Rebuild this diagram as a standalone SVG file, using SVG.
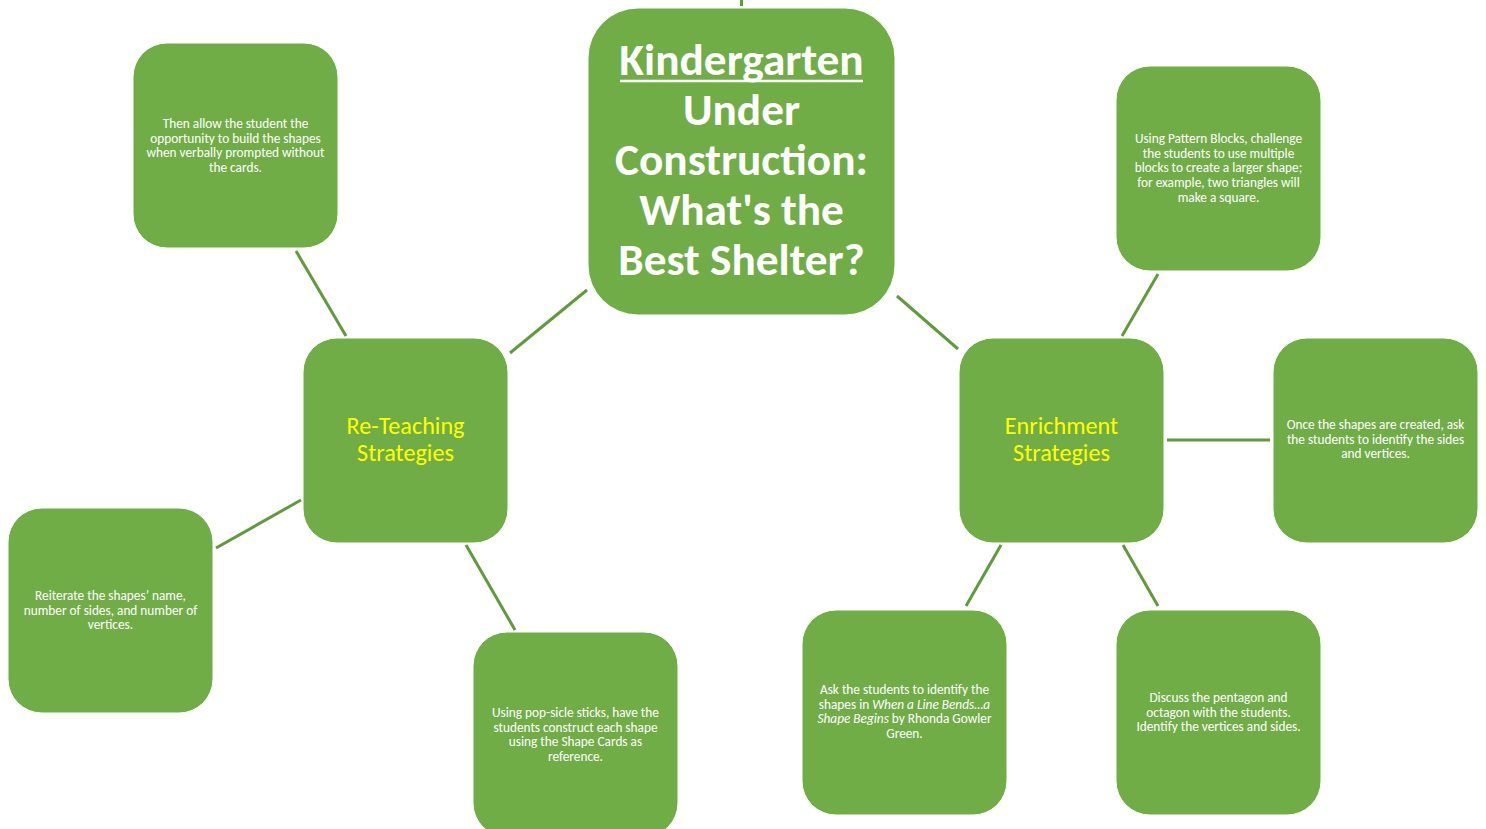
<svg xmlns="http://www.w3.org/2000/svg" width="1486" height="829" viewBox="0 0 1486 829">
<style>
.box{fill:#70ad47;stroke:#ffffff;stroke-width:1}
.conn line{stroke:#5f9b3c;stroke-width:3;stroke-linecap:butt}
.small{font-family:Carlito,Lato,"Open Sans",sans-serif;font-size:13.3px;fill:#ffffff;text-anchor:middle}
.mid{font-family:Carlito,Lato,"Open Sans",sans-serif;font-size:24.2px;fill:#ffff00;text-anchor:middle}
.title{font-family:Carlito,Lato,"Open Sans",sans-serif;font-size:45.3px;font-weight:bold;fill:#ffffff;text-anchor:middle}
</style>
<rect width="1486" height="829" fill="#ffffff"/>
<g class="conn" id="connectors">
<line x1="741.5" y1="0" x2="741.5" y2="6"/>
<line x1="587" y1="290" x2="510" y2="353"/>
<line x1="897" y1="296" x2="958" y2="349"/>
<line x1="346" y1="336" x2="296" y2="251"/>
<line x1="301" y1="500" x2="216" y2="548"/>
<line x1="466" y1="545" x2="515" y2="630"/>
<line x1="1122" y1="336" x2="1158" y2="274"/>
<line x1="1167" y1="440" x2="1270" y2="440"/>
<line x1="1001" y1="545" x2="966" y2="606"/>
<line x1="1123" y1="545" x2="1158" y2="606"/>
</g>
<g id="center">
<rect class="box" x="588" y="8" width="307" height="307" rx="50"/>
<text class="title" x="741.5" y="75">Kindergarten</text>
<line x1="620" y1="81" x2="863" y2="81" stroke="#ffffff" stroke-width="2.5"/>
<text class="title" x="741.5" y="125">Under</text>
<text class="title" x="741.5" y="175">Construction:</text>
<text class="title" x="741.5" y="225">What's the</text>
<text class="title" x="741.5" y="275">Best Shelter?</text>
</g>
<g id="reteach">
<rect class="box" x="303" y="338" width="205" height="205" rx="34"/>
<text class="mid" x="405.5" y="434">Re-Teaching</text>
<text class="mid" x="405.5" y="461">Strategies</text>
</g>
<g id="enrich">
<rect class="box" x="959" y="338" width="205" height="205" rx="34"/>
<text class="mid" x="1061.5" y="434">Enrichment</text>
<text class="mid" x="1061.5" y="461">Strategies</text>
</g>
<g id="tl">
<rect class="box" x="133" y="43" width="205" height="205" rx="34"/>
<text class="small" x="235.5" y="128">Then allow the student the</text>
<text class="small" x="235.5" y="142.7">opportunity to build the shapes</text>
<text class="small" x="235.5" y="157.4">when verbally prompted without</text>
<text class="small" x="235.5" y="172.1">the cards.</text>
</g>
<g id="lb">
<rect class="box" x="8" y="508" width="205" height="205" rx="34"/>
<text class="small" x="110.5" y="600">Reiterate the shapes’ name,</text>
<text class="small" x="110.5" y="614.7">number of sides, and number of</text>
<text class="small" x="110.5" y="629.4">vertices.</text>
</g>
<g id="rb">
<rect class="box" x="473" y="632" width="205" height="205" rx="34"/>
<text class="small" x="575.5" y="717">Using pop-sicle sticks, have the</text>
<text class="small" x="575.5" y="731.7">students construct each shape</text>
<text class="small" x="575.5" y="746.4">using the Shape Cards as</text>
<text class="small" x="575.5" y="761.1">reference.</text>
</g>
<g id="tr">
<rect class="box" x="1116" y="66" width="205" height="205" rx="34"/>
<text class="small" x="1218.5" y="143">Using Pattern Blocks, challenge</text>
<text class="small" x="1218.5" y="157.7">the students to use multiple</text>
<text class="small" x="1218.5" y="172.4">blocks to create a larger shape;</text>
<text class="small" x="1218.5" y="187.1">for example, two triangles will</text>
<text class="small" x="1218.5" y="201.8">make a square.</text>
</g>
<g id="r">
<rect class="box" x="1273" y="338" width="205" height="205" rx="34"/>
<text class="small" x="1375.5" y="429">Once the shapes are created, ask</text>
<text class="small" x="1375.5" y="443.7">the students to identify the sides</text>
<text class="small" x="1375.5" y="458.4">and vertices.</text>
</g>
<g id="bc">
<rect class="box" x="802" y="610" width="205" height="205" rx="34"/>
<text class="small" x="904.5" y="694">Ask the students to identify the</text>
<text class="small" x="904.5" y="708.7">shapes in <tspan font-style="italic">When a Line Bends…a</tspan></text>
<text class="small" x="904.5" y="723.4"><tspan font-style="italic">Shape Begins</tspan> by Rhonda Gowler</text>
<text class="small" x="904.5" y="738.1">Green.</text>
</g>
<g id="br">
<rect class="box" x="1116" y="610" width="205" height="205" rx="34"/>
<text class="small" x="1218.5" y="702">Discuss the pentagon and</text>
<text class="small" x="1218.5" y="716.7">octagon with the students.</text>
<text class="small" x="1218.5" y="731.4">Identify the vertices and sides.</text>
</g>
</svg>
